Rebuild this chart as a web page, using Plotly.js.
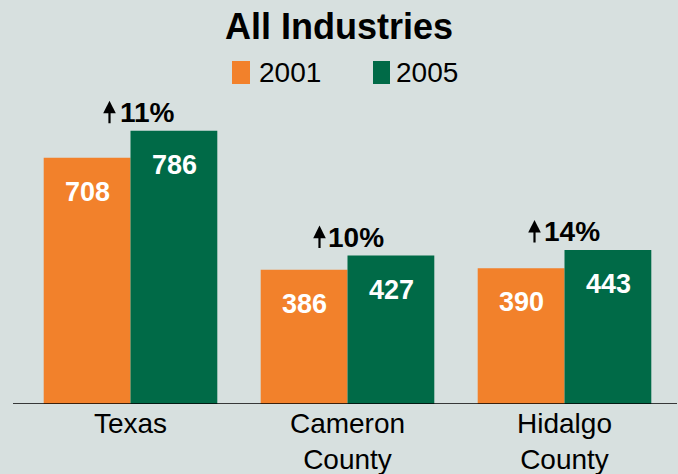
<!DOCTYPE html>
<html>
<head>
<meta charset="utf-8">
<script src="https://cdn.plot.ly/plotly-3.0.1.min.js"></script>
<style>html,body{margin:0;padding:0;background:#d7e0df;}</style>
</head>
<body>
<div id="chart" style="width:678px;height:474px;"></div>
<script>
const categories = ["Texas", "Cameron<br>County", "Hidalgo<br>County"];
const values2001 = [708, 386, 390];
const values2005 = [786, 427, 443];
const growth = ["11%", "10%", "14%"];
const seriesNames = ["2001", "2005"];
const colors = ["#f2812b", "#006a47"];

const font = "Liberation Sans, Arial, sans-serif";

const traces = [
  {type: "bar", name: seriesNames[0], x: categories, y: values2001,
   marker: {color: colors[0]}, hoverinfo: "none", showlegend: false},
  {type: "bar", name: seriesNames[1], x: categories, y: values2005,
   marker: {color: colors[1]}, hoverinfo: "none", showlegend: false}
];

// pixel nudges for the growth labels (style only)
const pctShift = [17, 8, 7];
const arrowShift = [-21, -28, -30];

const annotations = [];
categories.forEach((c, i) => {
  [[values2001, -43.5], [values2005, 43.5]].forEach(([vals, dx]) => {
    annotations.push({x: c, y: vals[i], xref: "x", yref: "y", text: "<b>" + vals[i] + "</b>",
      showarrow: false, xshift: dx, yanchor: "middle", yshift: -34,
      font: {family: font, size: 27, color: "#ffffff"}});
  });
  const top = Math.max(values2001[i], values2005[i]);
  annotations.push({x: c, y: top, xref: "x", yref: "y",
    text: "<b>" + growth[i] + "</b>", showarrow: false, yanchor: "bottom", yshift: 1, xshift: pctShift[i],
    font: {family: font, size: 28, color: "#000000"}});
  annotations.push({x: c, y: top, xref: "x", yref: "y", text: "",
    showarrow: true, ax: 0, ay: 24, arrowhead: 2, arrowsize: 1.15, arrowwidth: 2.2, arrowcolor: "#000000",
    xshift: arrowShift[i], yshift: 30, standoff: 0, startstandoff: 0});
});

// manual legend
const legendItems = [
  {x0: 232, x1: 250, tx: 257},
  {x0: 373, x1: 390, tx: 394}
];
const L = 22, W = 651, T = 91, H = 313;
const px = v => (v - L) / W;
const py = v => (T + H - v) / H;
const shapes = [{type: "line", xref: "paper", yref: "y", x0: px(13), x1: px(677), y0: 0, y1: 0,
    line: {color: "#000000", width: 1.6}}];
legendItems.forEach((it, k) => {
  shapes.push({type: "rect", xref: "paper", yref: "paper", x0: px(it.x0), x1: px(it.x1),
    y0: py(84), y1: py(61), fillcolor: colors[k], line: {width: 0}});
  annotations.push({xref: "paper", yref: "paper", x: px(it.tx), y: py(73), xanchor: "left", yanchor: "middle",
    text: seriesNames[k], showarrow: false, font: {family: font, size: 28, color: "#000000"}});
});

const layout = {
  width: 678, height: 474,
  paper_bgcolor: "#d7e0df", plot_bgcolor: "#d7e0df",
  margin: {l: L, r: 678 - L - W, t: T, b: 474 - T - H},
  title: {text: "<b>All Industries</b>", x: 0.5, xanchor: "center", y: 1 - 26 / 474, yanchor: "middle",
    font: {family: font, size: 36, color: "#000000"}},
  barmode: "group", bargap: 0.2, bargroupgap: 0,
  showlegend: false,
  xaxis: {type: "category", showline: false, showgrid: false, zeroline: false, ticks: "",
    tickfont: {family: font, size: 28, color: "#000000"}, fixedrange: true},
  yaxis: {range: [0, 900], visible: false, fixedrange: true},
  shapes: shapes,
  annotations: annotations
};

Plotly.newPlot("chart", traces, layout, {displayModeBar: false, staticPlot: true});
</script>
</body>
</html>
